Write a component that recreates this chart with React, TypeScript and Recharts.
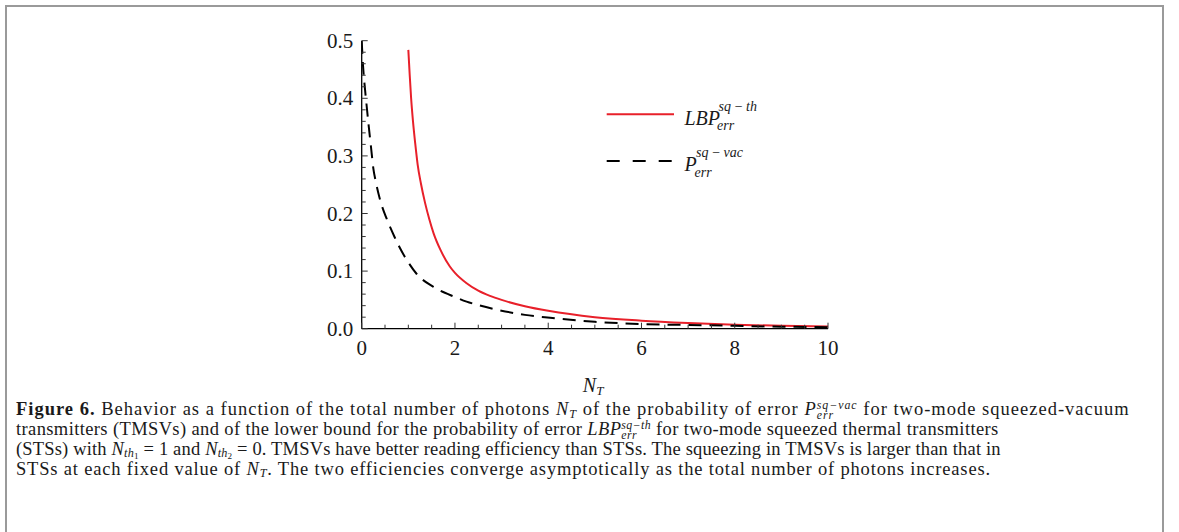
import React from 'react';
import { LineChart, Line, XAxis, YAxis, Legend } from 'recharts';

// ---- data ----
const NT_VAC = [0, 0.03, 0.06, 0.1, 0.15, 0.2, 0.25, 0.3, 0.4, 0.54, 0.7, 0.82, 1.0, 1.18, 1.53, 2.0, 2.25, 2.5, 2.96, 3.5, 4.04, 5, 6, 7, 8, 9, 10];
const P_VAC = [0.5, 0.455, 0.425, 0.392, 0.352, 0.315, 0.278, 0.256, 0.222, 0.19, 0.16, 0.14, 0.115, 0.095, 0.073, 0.055, 0.047, 0.041, 0.032, 0.024, 0.019, 0.012, 0.008, 0.0065, 0.005, 0.0035, 0.0025];

const NT_TH = [1.0, 1.03, 1.06, 1.1, 1.15, 1.2, 1.27, 1.36, 1.45, 1.54, 1.7, 1.89, 2.0, 2.25, 2.5, 2.75, 3.0, 3.5, 4.0, 5, 6, 7, 8, 9, 10];
const P_TH = [0.484, 0.44, 0.40, 0.36, 0.32, 0.285, 0.252, 0.218, 0.19, 0.166, 0.135, 0.108, 0.097, 0.079, 0.066, 0.057, 0.050, 0.039, 0.031, 0.020, 0.014, 0.010, 0.007, 0.005, 0.004];

const X_TICKS = [0, 0.5, 1, 1.5, 2, 2.5, 3, 3.5, 4, 4.5, 5, 5.5, 6, 6.5, 7, 7.5, 8, 8.5, 9, 9.5, 10];
const X_LABELS = [0, 2, 4, 6, 8, 10];
const Y_TICKS = [0, 0.02, 0.04, 0.06, 0.08, 0.1, 0.12, 0.14, 0.16, 0.18, 0.2, 0.22, 0.24, 0.26, 0.28, 0.3, 0.32, 0.34, 0.36, 0.38, 0.4, 0.42, 0.44, 0.46, 0.48, 0.5];
const Y_LABELS = [0, 0.1, 0.2, 0.3, 0.4, 0.5];

const vacData = NT_VAC.map((x, i) => ({ x, y: P_VAC[i] }));
const thData = NT_TH.map((x, i) => ({ x, y: P_TH[i] }));

const SERIF = "'Liberation Serif', 'DejaVu Serif', serif";
const TICK_COLOR = '#333';
const TEXT_COLOR = '#1a1a1a';

const isLabelX = (v: number) => X_LABELS.some((l) => Math.abs(l - v) < 1e-9);
const isLabelY = (v: number) => Y_LABELS.some((l) => Math.abs(l - v) < 1e-9);

const BottomTick = (props: any) => {
  const { x, y, payload } = props;
  const major = isLabelX(payload.value);
  return (
    <g>
      <line x1={x} y1={y} x2={x} y2={y - (major ? 6 : 4)} stroke={TICK_COLOR} strokeWidth={1} />
      {major && (
        <text x={x} y={y + 26.5} textAnchor="middle" fontFamily={SERIF} fontSize={21} fill={TEXT_COLOR}>
          {String(payload.value)}
        </text>
      )}
    </g>
  );
};

const TopTick = (props: any) => {
  const { x, y, payload } = props;
  const major = isLabelX(payload.value);
  return <line x1={x} y1={y} x2={x} y2={y + (major ? 6 : 4)} stroke={TICK_COLOR} strokeWidth={1} />;
};

const LeftTick = (props: any) => {
  const { x, y, payload } = props;
  const major = isLabelY(payload.value);
  return (
    <g>
      <line x1={x} y1={y} x2={x + (major ? 6 : 4)} y2={y} stroke={TICK_COLOR} strokeWidth={1} />
      {major && (
        <text x={x - 8.5} y={y + 7} textAnchor="end" fontFamily={SERIF} fontSize={21} fill={TEXT_COLOR}>
          {Number(payload.value).toFixed(1)}
        </text>
      )}
    </g>
  );
};

const RightTick = (props: any) => {
  const { x, y, payload } = props;
  const major = isLabelY(payload.value);
  return <line x1={x} y1={y} x2={x - (major ? 6 : 4)} y2={y} stroke={TICK_COLOR} strokeWidth={1} />;
};

const renderNTLabel = (props: any) => {
  const vb = props.viewBox || { x: 361.7, y: 328.7, width: 466.3, height: 70 };
  const cx = vb.x + vb.width / 2;
  return (
    <text x={cx - 12} y={vb.y + 63} fontFamily={SERIF} fill={TEXT_COLOR}>
      <tspan fontStyle="italic" fontSize={20}>N</tspan>
      <tspan fontStyle="italic" fontSize={13} dy={3.5}>T</tspan>
    </text>
  );
};

const LEGEND_TEXT: Record<string, { base: string; sup: string; sub: string; baseW: number }> = {
  th: { base: 'LBP', sup: 'sq\u2009\u2212\u2009th', sub: 'err', baseW: 34 },
  vac: { base: 'P', sup: 'sq\u2009\u2212\u2009vac', sub: 'err', baseW: 11.5 },
};

const LegendContent = (props: any) => {
  const payload = props.payload || [];
  return (
    <svg width={220} height={110} style={{ overflow: 'visible' }}>
      {payload.map((entry: any, i: number) => {
        const t = LEGEND_TEXT[entry.value];
        if (!t) return null;
        const dash = entry.payload && entry.payload.strokeDasharray;
        const ly = 24.3 + i * 46.7;
        return (
          <g key={i}>
            <line x1={6.7} x2={74} y1={ly} y2={ly} stroke={entry.color} strokeWidth={2} strokeDasharray={dash ? '13 13' : undefined} />
            <text x={84.5} y={ly + 10.2} fontFamily={SERIF} fontSize={20} fontStyle="italic" fill={TEXT_COLOR}>{t.base}</text>
            <text x={84.5 + t.baseW} y={ly - 3.8} fontFamily={SERIF} fontSize={14} fontStyle="italic" fill={TEXT_COLOR}>{t.sup}</text>
            <text x={84.5 + t.baseW - 1.5} y={ly + 15.5} fontFamily={SERIF} fontSize={14} fontStyle="italic" fill={TEXT_COLOR}>{t.sub}</text>
          </g>
        );
      })}
    </svg>
  );
};

const it: React.CSSProperties = { fontStyle: 'italic' };

const Scripts = ({ sup, sub }: { sup: string; sub: string }) => (
  <span style={{ display: 'inline-block', position: 'relative', fontSize: '0.64em', fontStyle: 'italic', lineHeight: 1 }}>
    <span style={{ position: 'relative', top: '-0.55em' }}>{sup}</span>
    <span style={{ position: 'absolute', left: 0, top: '0.32em' }}>{sub}</span>
  </span>
);

const Sub = ({ children }: { children: React.ReactNode }) => (
  <span style={{ fontSize: '0.66em', position: 'relative', top: '0.22em', fontStyle: 'italic' }}>{children}</span>
);

const SubSub = ({ children }: { children: React.ReactNode }) => (
  <span style={{ fontSize: '0.75em', position: 'relative', top: '0.15em', fontStyle: 'normal' }}>{children}</span>
);

const CAPTION_TOP = 399;

const captionLine = (top: number, spacing: number, content: React.ReactNode) => (
  <div style={{ position: 'absolute', left: 16, top, whiteSpace: 'nowrap', lineHeight: '20px', height: 20, letterSpacing: `${spacing}px` }}>{content}</div>
);

export default function App() {
  return (
    <div style={{ position: 'absolute', left: 0, top: 0, width: 1179, height: 532, overflow: 'hidden', background: '#fff' }}>
      <div style={{ position: 'absolute', left: 5, top: 5, width: 1158.5, height: 700, border: '2px solid #9a9a9a', boxSizing: 'border-box' }} />
      <div style={{ position: 'absolute', left: 0, top: 0 }}>
        <LineChart width={1179} height={532} margin={{ top: 40.7, right: 351, bottom: 532 - 328.7 - 70, left: 361.7 - 70 }}>
          <XAxis xAxisId="b" type="number" dataKey="x" domain={[0, 10]} allowDataOverflow ticks={X_TICKS} interval={0}
            orientation="bottom" height={70} tickSize={0} tickMargin={0} tickLine={false}
            axisLine={{ stroke: '#000', strokeWidth: 1.3 }} tick={<BottomTick />} label={renderNTLabel} />
          <XAxis xAxisId="t" type="number" dataKey="x" domain={[0, 10]} allowDataOverflow ticks={X_TICKS} interval={0}
            orientation="top" height={0} tickSize={0} tickMargin={0} tickLine={false}
            axisLine={{ stroke: '#000', strokeWidth: 1.3 }} tick={<TopTick />} />
          <YAxis yAxisId="l" type="number" domain={[0, 0.5]} allowDataOverflow ticks={Y_TICKS} interval={0}
            orientation="left" width={70} tickSize={0} tickMargin={0} tickLine={false}
            axisLine={{ stroke: '#000', strokeWidth: 1.3 }} tick={<LeftTick />} />
          <YAxis yAxisId="r" type="number" domain={[0, 0.5]} allowDataOverflow ticks={Y_TICKS} interval={0}
            orientation="right" width={0} tickSize={0} tickMargin={0} tickLine={false}
            axisLine={{ stroke: '#000', strokeWidth: 1.3 }} tick={<RightTick />} />
          <Line xAxisId="b" yAxisId="l" data={thData} dataKey="y" name="th" type="monotone" stroke="#e8202a"
            strokeWidth={2} dot={false} isAnimationActive={false} />
          <Line xAxisId="b" yAxisId="l" data={vacData} dataKey="y" name="vac" type="monotone" stroke="#000"
            strokeWidth={2} strokeDasharray="13 8" dot={false} isAnimationActive={false} />
          <Legend layout="vertical" align="center" verticalAlign="middle" content={<LegendContent />}
            wrapperStyle={{ left: 600, top: 90, width: 220, height: 110 }} />
        </LineChart>
      </div>
      <div style={{ position: 'absolute', left: 0, top: CAPTION_TOP, fontFamily: SERIF, fontSize: 18.5, color: TEXT_COLOR }}>
        {captionLine(0, 1.0, <>
          <b>Figure 6.</b> Behavior as a function of the total number of photons <span style={it}>N</span><Sub>T</Sub> of the probability of error <span style={it}>P</span><Scripts sup={'sq\u2212vac'} sub="err" /> for two-mode squeezed-vacuum
        </>)}
        {captionLine(20, 0.38, <>
          transmitters (TMSVs) and of the lower bound for the probability of error <span style={it}>LBP</span><Scripts sup={'sq\u2212th'} sub="err" /> for two-mode squeezed thermal transmitters
        </>)}
        {captionLine(39.5, 0.17, <>
          (STSs) with <span style={it}>N</span><Sub>th<SubSub>1</SubSub></Sub> = 1 and <span style={it}>N</span><Sub>th<SubSub>2</SubSub></Sub> = 0. TMSVs have better reading efficiency than STSs. The squeezing in TMSVs is larger than that in
        </>)}
        {captionLine(59.5, 0.82, <>
          STSs at each fixed value of <span style={it}>N</span><Sub>T</Sub>. The two efficiencies converge asymptotically as the total number of photons increases.
        </>)}
      </div>
    </div>
  );
}
